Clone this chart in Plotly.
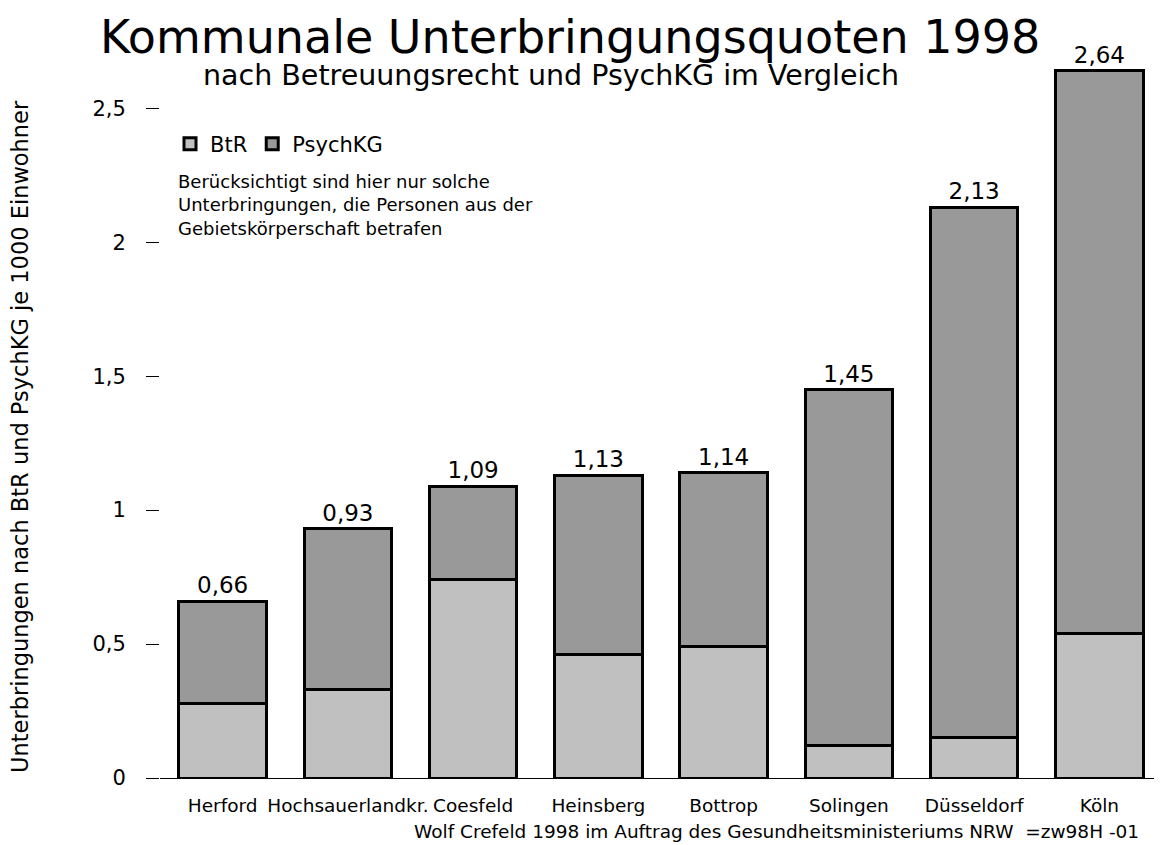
import plotly.graph_objects as go

categories = ["Herford", "Hochsauerlandkr.", "Coesfeld", "Heinsberg", "Bottrop",
              "Solingen", "Düsseldorf", "Köln"]
totals = [0.66, 0.93, 1.09, 1.13, 1.14, 1.45, 2.13, 2.64]
btr = [0.28, 0.33, 0.74, 0.46, 0.49, 0.12, 0.15, 0.54]
psychkg = [round(t - b, 2) for t, b in zip(totals, btr)]
total_labels = [f"{t:.2f}".replace(".", ",") for t in totals]
yticks = [0, 0.5, 1, 1.5, 2, 2.5]

FONT = "DejaVu Sans"
OFF = 8  # page body margin offset
W, H = 1162, 845
L, R, T, B = 160 - OFF, OFF, 28 - OFF, H - (778 - OFF)
PW, PH = W - L - R, H - T - B


def px(x):
    return (x - OFF - L) / PW


def py(y):
    return (H - B - (y - OFF)) / PH


fig = go.Figure()
fig.add_trace(go.Bar(
    x=categories, y=btr, name="BtR",
    marker=dict(color="#c0c0c0", line=dict(color="black", width=3)),
))
fig.add_trace(go.Bar(
    x=categories, y=psychkg, name="PsychKG",
    marker=dict(color="#999999", line=dict(color="black", width=3)),
    text=total_labels, textposition="outside", cliponaxis=False,
    textfont=dict(size=23, color="black", family=FONT),
))

fig.update_layout(
    width=W, height=H,
    barmode="stack", bargap=0.3,
    separators=",.",
    paper_bgcolor="white", plot_bgcolor="white",
    font=dict(family=FONT, color="black"),
    margin=dict(l=L, r=R, t=T, b=B, autoexpand=False),
    showlegend=True,
    legend=dict(orientation="h", x=px(170), y=py(144), xanchor="left", yanchor="middle",
                font=dict(size=21), itemwidth=30, traceorder="normal",
                bgcolor="rgba(0,0,0,0)"),
)
fig.update_xaxes(
    showline=True, linecolor="black", linewidth=1, automargin=False,
    ticks="", showgrid=False,
    tickfont=dict(size=18.5), ticklabelstandoff=11,
)
fig.update_yaxes(
    range=[0, 2.8], tickvals=yticks, showgrid=False, zeroline=False, automargin=False,
    ticks="outside", ticklen=13, tickcolor="black", tickwidth=1,
    tickfont=dict(size=21), ticklabelstandoff=16,
)

fig.add_annotation(text="Kommunale Unterbringungsquoten 1998", xref="paper", yref="paper",
                   x=px(570), y=py(37), xanchor="center", yanchor="middle",
                   showarrow=False, font=dict(size=46))
fig.add_annotation(text="nach Betreuungsrecht und PsychKG im Vergleich", xref="paper", yref="paper",
                   x=px(551), y=py(76), xanchor="center", yanchor="middle",
                   showarrow=False, font=dict(size=28.5))
fig.add_annotation(text="Berücksichtigt sind hier nur solche<br>Unterbringungen, die Personen aus der<br>Gebietskörperschaft betrafen",
                   xref="paper", yref="paper", x=px(176), y=py(205),
                   xanchor="left", yanchor="middle", align="left",
                   showarrow=False, font=dict(size=18))
fig.add_annotation(text="Unterbringungen nach BtR und PsychKG je 1000 Einwohner",
                   xref="paper", yref="paper", x=px(20), y=py(437),
                   xanchor="center", yanchor="middle", textangle=-90,
                   showarrow=False, font=dict(size=22.5))
fig.add_annotation(text="Wolf Crefeld 1998 im Auftrag des Gesundheitsministeriums NRW  =zw98H -01",
                   xref="paper", yref="paper", x=px(1141), y=py(831),
                   xanchor="right", yanchor="middle",
                   showarrow=False, font=dict(size=18.5))

fig.write_html("out.html")
